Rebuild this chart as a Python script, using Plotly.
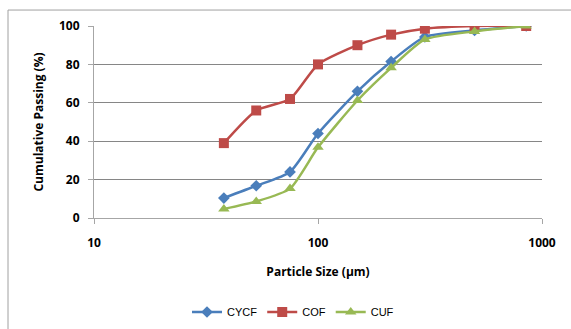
import plotly.graph_objects as go

# Particle size distribution (sieve sizes in micrometres)
sizes = [38, 53, 75, 100, 150, 212, 300, 500, 850]
cycf = [10.4, 16.8, 24.0, 44.0, 66.0, 81.5, 94.3, 97.7, 100.0]
cof = [39.0, 56.0, 62.0, 80.0, 90.0, 95.5, 98.6, 100.0, 100.0]
cuf = [4.7, 8.6, 15.3, 36.8, 61.2, 78.2, 93.0, 97.2, 100.0]

y_ticks = [0, 20, 40, 60, 80, 100]
x_ticks = [10, 100, 1000]

W, H = 571, 329
L, R, T, B = 94, 29, 26, 110.5

font_family = "Open Sans, Lato, DejaVu Sans, sans-serif"

fig = go.Figure()
series = [
    ("CYCF", cycf, "#4A7EBB", "diamond", 9),
    ("COF", cof, "#BE4B48", "square", 10),
    ("CUF", cuf, "#98B954", "triangle-up", 10),
]
for name, vals, color, symbol, msize in series:
    fig.add_trace(go.Scatter(
        x=sizes, y=vals, name=name, mode="lines+markers",
        line=dict(color=color, width=2.5, shape="spline", smoothing=0.6),
        marker=dict(symbol=symbol, size=msize, color=color),
    ))

fig.update_layout(
    width=W, height=H,
    margin=dict(l=L, r=R, t=T, b=B, autoexpand=False),
    paper_bgcolor="white", plot_bgcolor="white",
    font=dict(family=font_family, size=12, color="black"),
    showlegend=True,
    legend=dict(
        orientation="h", x=293 / W, xref="container", xanchor="center",
        y=1 - 312 / H, yref="container", yanchor="middle",
        font=dict(size=11, family="Liberation Sans Narrow, Arial Narrow, Liberation Sans, sans-serif"),
        itemwidth=30, tracegroupgap=0,
    ),
    xaxis=dict(
        type="log", range=[1, 3], tickvals=x_ticks, ticktext=[str(v) for v in x_ticks],
        showgrid=False, showline=True, linecolor="#A6A6A6", linewidth=1,
        ticks="outside", ticklen=5, tickcolor="#A6A6A6",
        tickfont=dict(size=12, family=font_family, weight="bold"),
        ticklabelstandoff=9, automargin=False,
        title=dict(text="<b>Particle Size (µm)</b>", font=dict(size=12), standoff=17),
        zeroline=False,
    ),
    yaxis=dict(
        range=[0, 100], tickvals=y_ticks,
        showgrid=True, gridcolor="#868686", gridwidth=1,
        showline=True, linecolor="#A6A6A6", linewidth=1,
        ticks="outside", ticklen=5, tickcolor="#A6A6A6",
        tickfont=dict(size=12, family=font_family, weight="bold"),
        ticklabelstandoff=6, automargin=False,
        title=dict(text="<b>Cumulative Passing (%)</b>", font=dict(size=12), standoff=12),
        zeroline=False,
    ),
    shapes=[dict(
        type="rect", xref="paper", yref="paper",
        x0=(8 - L) / (W - L - R), x1=(W + 5 - L) / (W - L - R),
        y0=-(H + 5 - (H - B)) / (H - T - B), y1=1 + (T - 10) / (H - T - B),
        line=dict(color="#A0A0A0", width=1), fillcolor="rgba(0,0,0,0)",
        layer="below",
    )],
)

fig.write_html("out.html")
